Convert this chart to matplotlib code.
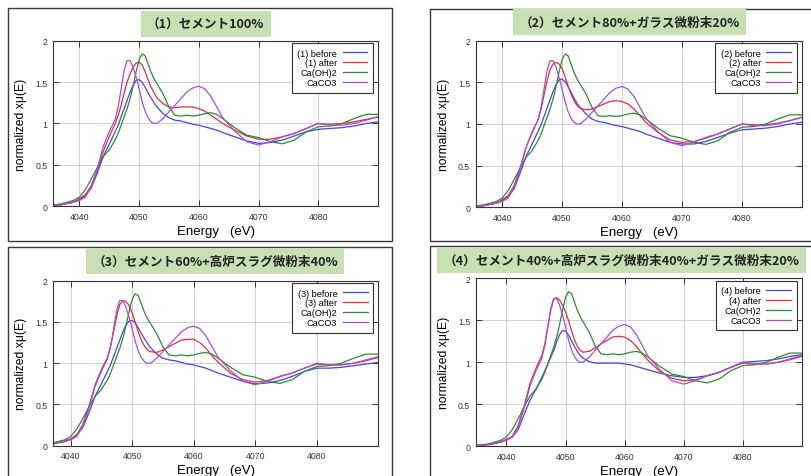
import matplotlib
matplotlib.use("Agg")
from matplotlib import pyplot as plt
from matplotlib.patches import Rectangle

# energy grid (eV)
energy = [4035, 4037, 4039, 4040, 4041, 4042, 4043, 4044, 4045,
          4046, 4046.5, 4047, 4047.5, 4048, 4048.5, 4049, 4049.5, 4050,
          4050.5, 4051, 4051.5, 4052, 4052.5, 4053,
          4054, 4055, 4056, 4057, 4058, 4059, 4060, 4061, 4062, 4063, 4064,
          4066, 4068, 4070, 4072, 4074, 4076, 4078, 4080, 4082, 4084, 4086, 4088, 4090]

# references (same in every panel)
caoh2 = [0.01, 0.03, 0.07, 0.11, 0.20, 0.33, 0.47, 0.60, 0.68,
         0.80, 0.88, 0.98, 1.08, 1.18, 1.30, 1.45, 1.62, 1.77,
         1.84, 1.82, 1.72, 1.62, 1.54, 1.48,
         1.36, 1.20, 1.10, 1.09, 1.10, 1.09, 1.10, 1.12, 1.13, 1.11, 1.06,
         0.95, 0.86, 0.83, 0.78, 0.755, 0.80, 0.90, 0.96, 0.97, 1.00, 1.06, 1.11, 1.11]
caco3 = [0.01, 0.02, 0.05, 0.07, 0.11, 0.24, 0.45, 0.72, 0.90,
         1.05, 1.20, 1.42, 1.64, 1.76, 1.76, 1.68, 1.56, 1.42,
         1.27, 1.15, 1.07, 1.02, 1.00, 1.00,
         1.06, 1.14, 1.22, 1.30, 1.38, 1.43, 1.45, 1.42, 1.33, 1.20, 1.07,
         0.91, 0.78, 0.74, 0.78, 0.84, 0.88, 0.94, 1.00, 0.98, 0.98, 1.00, 1.04, 1.08]

before1 = [0.01, 0.02, 0.05, 0.08, 0.13, 0.22, 0.40, 0.60, 0.75,
           0.90, 0.98, 1.08, 1.18, 1.28, 1.38, 1.46, 1.52, 1.53,
           1.50, 1.44, 1.37, 1.31, 1.25, 1.20,
           1.12, 1.07, 1.04, 1.03, 1.01, 0.99, 0.98, 0.96, 0.94, 0.92, 0.89,
           0.84, 0.79, 0.76, 0.77, 0.80, 0.85, 0.90, 0.93, 0.94, 0.95, 0.97, 1.00, 1.02]
after1 = [0.01, 0.02, 0.05, 0.09, 0.14, 0.25, 0.43, 0.66, 0.84,
          1.00, 1.10, 1.22, 1.37, 1.50, 1.60, 1.68, 1.73, 1.74,
          1.71, 1.63, 1.53, 1.44, 1.37, 1.31,
          1.24, 1.20, 1.19, 1.20, 1.20, 1.20, 1.18, 1.15, 1.10, 1.05, 1.00,
          0.92, 0.85, 0.81, 0.81, 0.84, 0.88, 0.94, 1.00, 0.99, 1.00, 1.02, 1.05, 1.08]

before2 = [0.01, 0.02, 0.05, 0.08, 0.13, 0.22, 0.41, 0.61, 0.76,
           0.91, 0.99, 1.09, 1.19, 1.29, 1.39, 1.47, 1.53, 1.54,
           1.51, 1.45, 1.38, 1.31, 1.25, 1.20,
           1.12, 1.06, 1.03, 1.02, 1.00, 0.98, 0.97, 0.95, 0.93, 0.91, 0.88,
           0.83, 0.78, 0.76, 0.76, 0.79, 0.84, 0.89, 0.93, 0.94, 0.95, 0.97, 1.00, 1.02]
after2 = [0.01, 0.02, 0.05, 0.09, 0.14, 0.26, 0.47, 0.72, 0.90,
          1.05, 1.18, 1.35, 1.52, 1.65, 1.72, 1.74, 1.72, 1.67,
          1.57, 1.46, 1.36, 1.28, 1.22, 1.19,
          1.17, 1.18, 1.21, 1.24, 1.27, 1.28, 1.27, 1.24, 1.18, 1.10, 1.02,
          0.90, 0.81, 0.78, 0.79, 0.83, 0.88, 0.94, 1.00, 0.99, 0.99, 1.01, 1.04, 1.08]

before3 = [0.01, 0.02, 0.05, 0.08, 0.13, 0.22, 0.40, 0.60, 0.75,
           0.90, 0.98, 1.08, 1.18, 1.28, 1.38, 1.46, 1.51, 1.52,
           1.49, 1.43, 1.36, 1.30, 1.24, 1.19,
           1.11, 1.06, 1.04, 1.03, 1.01, 0.99, 0.98, 0.96, 0.94, 0.91, 0.88,
           0.83, 0.78, 0.75, 0.76, 0.79, 0.84, 0.90, 0.94, 0.94, 0.95, 0.97, 0.99, 1.01]
after3 = [0.01, 0.03, 0.06, 0.08, 0.13, 0.26, 0.48, 0.74, 0.92,
          1.07, 1.20, 1.38, 1.57, 1.71, 1.76, 1.75, 1.70, 1.61,
          1.50, 1.38, 1.28, 1.21, 1.16, 1.14,
          1.13, 1.16, 1.20, 1.24, 1.28, 1.29, 1.29, 1.25, 1.18, 1.09, 1.01,
          0.88, 0.80, 0.77, 0.79, 0.84, 0.88, 0.94, 0.99, 0.98, 0.98, 1.00, 1.03, 1.07]

before4 = [0.01, 0.02, 0.05, 0.08, 0.11, 0.20, 0.38, 0.55, 0.68,
           0.82, 0.90, 0.98, 1.06, 1.14, 1.24, 1.33, 1.38, 1.37,
           1.33, 1.26, 1.19, 1.13, 1.08, 1.05,
           1.01, 0.99, 0.99, 0.99, 0.99, 0.99, 0.98, 0.97, 0.95, 0.93, 0.91,
           0.87, 0.84, 0.82, 0.82, 0.84, 0.88, 0.94, 1.00, 1.01, 1.02, 1.04, 1.07, 1.09]
after4 = [0.01, 0.02, 0.05, 0.08, 0.12, 0.25, 0.48, 0.75, 0.93,
          1.08, 1.22, 1.42, 1.62, 1.75, 1.77, 1.74, 1.68, 1.60,
          1.50, 1.38, 1.27, 1.19, 1.14, 1.12,
          1.13, 1.17, 1.22, 1.26, 1.30, 1.31, 1.30, 1.26, 1.19, 1.10, 1.02,
          0.89, 0.81, 0.78, 0.79, 0.84, 0.88, 0.94, 0.99, 0.98, 0.98, 1.00, 1.03, 1.07]

titles = ["（1）セメント100%",
          "（2）セメント80%+ガラス微粉末20%",
          "（3）セメント60%+高炉スラグ微粉末40%",
          "（4）セメント40%+高炉スラグ微粉末40%+ガラス微粉末20%"]
befores = [before1, before2, before3, before4]
afters = [after1, after2, after3, after4]
xlims = [(4035.6, 4090), (4035.6, 4090), (4037.2, 4090), (4034.8, 4090)]

# layout (figure fractions)
axes_pos = [[0.0654, 0.5654, 0.4007, 0.3472],
            [0.5866, 0.5633, 0.4020, 0.3493],
            [0.0657, 0.0635, 0.4007, 0.3459],
            [0.5866, 0.0623, 0.4020, 0.3522]]
frames = [(0.0099, 0.4927, 0.4736, 0.4878),
          (0.5302, 0.4927, 0.4800, 0.4863),
          (0.0099, -0.01, 0.4736, 0.4906),
          (0.5302, -0.01, 0.4800, 0.4927)]
title_xy = [(0.2534, 0.948), (0.7762, 0.952), (0.2651, 0.4507), (0.7663, 0.4518)]

colors = {"before": "#4646d8", "after": "#e0303a", "caoh2": "#2f8a33", "caco3": "#a64fd6"}

fig = plt.figure(figsize=(8.11, 4.77), dpi=100)
fig.patch.set_facecolor("white")

for i in range(4):
    fx, fy, fw, fh = frames[i]
    fig.patches.append(Rectangle((fx, fy), fw, fh, transform=fig.transFigure,
                                 fill=False, ec="#3a3a3a", lw=1.0))

    ax = fig.add_axes(axes_pos[i])
    n = str(i + 1)
    ax.plot(energy, befores[i], color=colors["before"], lw=0.9, label="(" + n + ") before")
    ax.plot(energy, afters[i], color=colors["after"], lw=0.9, label="(" + n + ") after")
    ax.plot(energy, caoh2, color=colors["caoh2"], lw=0.9, label="Ca(OH)2")
    ax.plot(energy, caco3, color=colors["caco3"], lw=0.9, label="CaCO3")

    ax.set_xlim(*xlims[i])
    ax.set_ylim(0, 2)
    ax.set_xticks([4040, 4050, 4060, 4070, 4080])
    ax.set_yticks([0, 0.5, 1, 1.5, 2])
    ax.set_yticklabels(["0", "0.5", "1", "1.5", "2"])
    ax.grid(True, color="#d0d0d0", lw=0.7)
    ax.tick_params(direction="in", top=True, right=True, length=4, width=0.7,
                   labelsize=6.3, labelcolor="#333333", color="#333333", pad=4)
    for s in ax.spines.values():
        s.set_color("#333333")
        s.set_linewidth(0.8)

    ax.set_xlabel("Energy   (eV)", fontsize=9.5, family="Liberation Sans", labelpad=3)
    ax.set_ylabel("normalized xμ(E)", fontsize=8.7, family="Liberation Sans", labelpad=6)
    for t in ax.get_xticklabels() + ax.get_yticklabels():
        t.set_family("Liberation Sans")

    leg = ax.legend(loc="upper right", bbox_to_anchor=(0.984, 0.986), borderaxespad=0,
                    markerfirst=False, fancybox=False, framealpha=1, edgecolor="#333333",
                    prop={"family": "Liberation Sans", "size": 6.6}, labelspacing=0.1,
                    handlelength=2.7, handletextpad=0.6, borderpad=0.6)
    leg.get_frame().set_linewidth(0.8)

    tx, ty = title_xy[i]
    fig.text(tx, ty, titles[i], ha="center", va="center", fontsize=9.1,
             family=["Noto Sans CJK JP", "DejaVu Sans"], weight="bold", color="#222222",
             bbox=dict(boxstyle="square,pad=0.5", fc="#c6e0b4", ec="none"))

fig.savefig("out.png", dpi=100)
